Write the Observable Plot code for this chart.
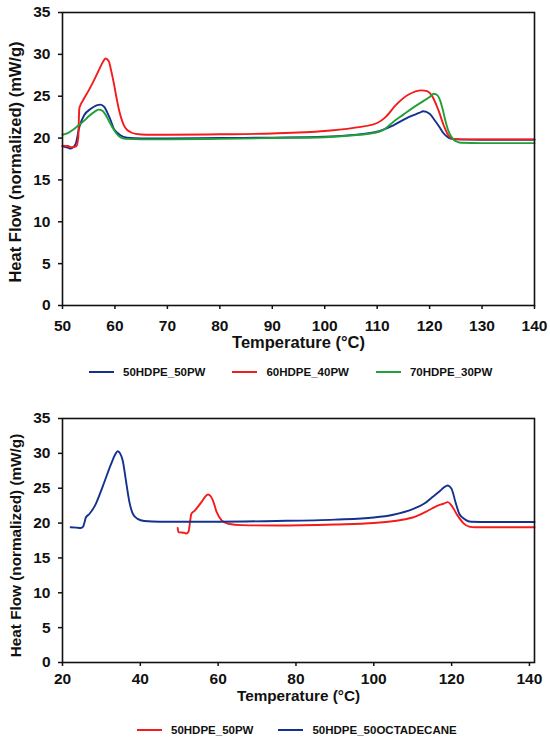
<!DOCTYPE html>
<html>
<head>
<meta charset="utf-8">
<script src="https://cdn.jsdelivr.net/npm/d3@7"></script>
<script src="https://cdn.jsdelivr.net/npm/@observablehq/plot@0.6"></script>
<style>
  html, body { margin: 0; padding: 0; background: #fff; }
  body { width: 550px; height: 741px; position: relative; overflow: hidden;
         font-family: "Liberation Sans", Arial, sans-serif; font-weight: bold; color: #111; }
  .chart { position: absolute; left: 0; }
  .legend { position: absolute; display: flex; align-items: center; font-size: 11.5px; white-space: nowrap; }
  .item { display: flex; align-items: center; }
  .swatch { width: 25px; height: 2px; margin-right: 9px; }
</style>
</head>
<body>
<div id="top" class="chart" style="top:0px"></div>
<div id="leg1" class="legend" style="top:366px; left:89px; gap:27px"></div>
<div id="bottom" class="chart" style="top:406px"></div>
<div id="leg2" class="legend" style="top:724px; left:137px; gap:25px"></div>
<script>
// ---------- Top panel data ----------
const topSeries = ["50HDPE_50PW", "60HDPE_40PW", "70HDPE_30PW"];
const topColors = ["#14318f", "#f51b1b", "#21a038"];
const topXTicks = [50, 60, 70, 80, 90, 100, 110, 120, 130, 140];
const yTicks = [0, 5, 10, 15, 20, 25, 30, 35];

const t_50PW = [50, 51, 51.6, 52.5, 53.2, 54.1, 55.4, 56.5, 57.2, 58, 58.5, 59.2, 59.8, 60.5, 61.1, 62.3, 65, 70, 80, 90, 100, 105, 110, 113, 116, 118, 118.8, 120, 121, 122, 122.5, 123.3, 124, 125, 130, 140];
const hf_50PW = [19.0, 18.85, 18.75, 19.3, 21.3, 22.7, 23.5, 23.9, 24.0, 23.7, 23.1, 22.1, 21.1, 20.6, 20.3, 20.05, 19.95, 19.95, 20.0, 20.05, 20.15, 20.35, 20.75, 21.5, 22.5, 23.0, 23.2, 22.9, 22.1, 21.2, 20.7, 20.2, 19.95, 19.85, 19.8, 19.8];

const t_40PW = [50, 51, 51.8, 52.6, 53.0, 53.2, 53.4, 54, 55, 56, 57, 57.7, 58.2, 58.8, 59.3, 59.8, 60.3, 60.8, 61.4, 62, 63, 64, 66, 70, 80, 90, 100, 106.5, 110, 111.6, 113.5, 116, 118.5, 119.5, 120.4, 121.7, 122.7, 123.6, 124.6, 126, 130, 140];
const hf_40PW = [19.1, 19.05, 18.9, 19.0, 20.0, 23.5, 23.9, 24.6, 25.7, 26.9, 28.2, 29.1, 29.5, 29.2, 28.0, 26.5, 24.8, 23.3, 22.0, 21.2, 20.7, 20.5, 20.4, 20.4, 20.45, 20.55, 20.85, 21.3, 21.8, 22.5, 23.9, 25.2, 25.7, 25.6, 25.1, 23.3, 21.5, 20.3, 19.9, 19.85, 19.85, 19.85];

const t_30PW = [50, 51, 52, 53, 54, 55, 56, 56.9, 57.5, 58.2, 58.8, 59.5, 60.2, 61, 62, 65, 70, 80, 90, 100, 105, 110, 111.5, 113, 115, 117, 119, 120, 120.8, 121.5, 122, 122.5, 123, 123.5, 124, 124.6, 125.3, 126, 130, 140];
const hf_30PW = [20.4, 20.6, 21.0, 21.5, 22.0, 22.6, 23.1, 23.4, 23.3, 22.8, 22.1, 21.3, 20.6, 20.1, 19.9, 19.85, 19.85, 19.9, 20.0, 20.1, 20.3, 20.7, 21.1, 21.9, 22.8, 23.7, 24.5, 24.9, 25.3, 25.1, 24.5, 23.4, 22.1, 21.0, 20.3, 19.8, 19.55, 19.45, 19.4, 19.4];

// ---------- Bottom panel data ----------
const botSeries = ["50HDPE_50PW", "50HDPE_50OCTADECANE"];
const botColors = ["#f51b1b", "#14318f"];
const botXTicks = [20, 40, 60, 80, 100, 120, 140];

const tb_50PW = [49.6, 49.8, 51.4, 51.8, 52.4, 52.8, 53.1, 54, 55.7, 56.7, 57.4, 58.0, 58.7, 59.6, 60.9, 62.6, 66, 75, 90, 100, 110, 114, 116, 118, 119, 120, 121.5, 123, 124.5, 126, 141.3];
const hfb_50PW = [19.3, 18.7, 18.6, 18.5, 18.8, 20.3, 21.3, 21.8, 23.0, 23.8, 24.1, 23.9, 23.2, 21.6, 20.4, 19.9, 19.7, 19.65, 19.8, 20.0, 20.8, 21.8, 22.4, 22.8, 23.0, 22.5, 21.1, 20.0, 19.5, 19.4, 19.4];

const tb_OCT = [22.1, 23.5, 24.7, 25.3, 25.7, 26.0, 26.9, 28.6, 30.3, 32.5, 33.5, 34.2, 34.8, 35.5, 36.3, 37.2, 38.1, 39.3, 41, 45, 60, 75, 90, 100, 105, 110, 113, 115, 117, 118, 119, 119.6, 120, 121, 122, 123.5, 125, 130, 141.3];
const hfb_OCT = [19.4, 19.35, 19.3, 19.5, 20.2, 20.8, 21.3, 22.8, 25.2, 28.5, 29.8, 30.3, 30.0, 28.9, 26.1, 23.0, 21.3, 20.6, 20.3, 20.2, 20.2, 20.3, 20.5, 20.8, 21.2, 22.0, 22.8, 23.7, 24.6, 25.1, 25.4, 25.2, 24.9, 23.0, 21.3, 20.5, 20.2, 20.15, 20.15];

const yLabel = "Heat Flow (normalized) (mW/g)";
const xLabel = "Temperature (°C)";

function rows(series, t, v) { return t.map((x, i) => ({series, T: x, HF: v[i]})); }

const topData = [
  ...rows(topSeries[0], t_50PW, hf_50PW),
  ...rows(topSeries[1], t_40PW, hf_40PW),
  ...rows(topSeries[2], t_30PW, hf_30PW)
];
const botData = [
  ...rows(botSeries[0], tb_50PW, hfb_50PW),
  ...rows(botSeries[1], tb_OCT, hfb_OCT)
];

function panel({data, series, colors, xDomain, xTicks, height, marginBottom, tickPadX, xLabelDy, yLabelDy, yLabelDx, fontTick, fontTitle}) {
  return Plot.plot({
    width: 550, height,
    marginLeft: 62, marginRight: 16, marginTop: 12, marginBottom,
    style: {fontFamily: '"Liberation Sans", Arial, sans-serif', fontWeight: "bold", fontSize: fontTick + "px", color: "#111", background: "#fff", overflow: "visible"},
    x: {domain: xDomain},
    y: {domain: [0, 35]},
    color: {domain: series, range: colors},
    marks: [
      Plot.line(data, {x: "T", y: "HF", z: "series", stroke: "series", strokeWidth: 1.9, curve: "monotone-x"}),
      Plot.frame({stroke: "#111", strokeWidth: 1.6}),
      Plot.axisX(xTicks, {tickSize: 4, tickPadding: tickPadX, strokeWidth: 1.5, label: null, fontSize: fontTick, tickFormat: d => String(d)}),
      Plot.axisY(yTicks, {tickSize: 4, tickPadding: 8, strokeWidth: 1.5, label: null, fontSize: fontTick, tickFormat: d => String(d)}),
      Plot.text([xLabel], {text: d => d, frameAnchor: "bottom", dy: xLabelDy, fontSize: fontTitle, fontWeight: "bold"}),
      Plot.text([yLabel], {text: d => d, frameAnchor: "left", textAnchor: "middle", lineAnchor: "middle", rotate: -90, dx: yLabelDx, dy: yLabelDy, fontSize: fontTitle, fontWeight: "bold"})
    ]
  });
}

document.getElementById("top").append(panel({
  data: topData, series: topSeries, colors: topColors,
  xDomain: [50, 140], xTicks: topXTicks, height: 365, marginBottom: 60,
  tickPadX: 10, xLabelDy: 42, yLabelDy: 3, yLabelDx: -47, fontTick: 15.5, fontTitle: 16.5
}));
document.getElementById("bottom").append(panel({
  data: botData, series: botSeries, colors: botColors,
  xDomain: [20, 141.3], xTicks: botXTicks, height: 306, marginBottom: 50,
  tickPadX: 6.5, xLabelDy: 38, yLabelDy: 5, yLabelDx: -46, fontTick: 15.5, fontTitle: 15.3
}));

function legend(id, series, colors) {
  const el = document.getElementById(id);
  series.forEach((s, i) => {
    const item = document.createElement("div");
    item.className = "item";
    const sw = document.createElement("div");
    sw.className = "swatch";
    sw.style.background = colors[i];
    const tx = document.createElement("span");
    tx.textContent = s;
    item.append(sw, tx);
    el.append(item);
  });
}
legend("leg1", topSeries, topColors);
legend("leg2", botSeries, botColors);
</script>
</body>
</html>
